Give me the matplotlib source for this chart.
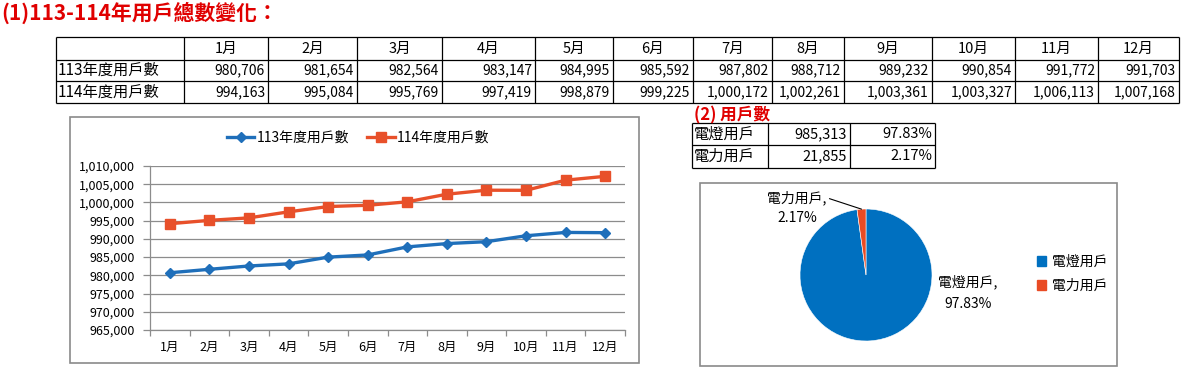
import matplotlib
matplotlib.use('Agg')
import matplotlib.pyplot as plt
from matplotlib.patches import Rectangle, Patch
import numpy as np

plt.rcParams['font.family'] = ['Noto Sans CJK TC', 'DejaVu Sans']

# ---------------- data ----------------
title1 = '(1)113-114年用戶總數變化：'
title2 = '(2) 用戶數'
months = ['1月', '2月', '3月', '4月', '5月', '6月', '7月', '8月', '9月', '10月', '11月', '12月']
series_names = ['113年度用戶數', '114年度用戶數']
users_113 = [980706, 981654, 982564, 983147, 984995, 985592, 987802, 988712,
             989232, 990854, 991772, 991703]
users_114 = [994163, 995084, 995769, 997419, 998879, 999225, 1000172, 1002261,
             1003361, 1003327, 1006113, 1007168]
y_ticks = [965000, 970000, 975000, 980000, 985000, 990000, 995000, 1000000, 1005000, 1010000]
pie_labels = ['電燈用戶', '電力用戶']
pie_counts = [985313, 21855]

# ---------------- style ----------------
W, H = 1190, 376
RED = '#E00000'
BLUE_LINE = '#1F6FBA'
ORANGE_LINE = '#E8502A'
PIE_COLORS = ['#0070C0', '#E94B24']
GRID = '#8C8C8C'

fig = plt.figure(figsize=(W / 100, H / 100), dpi=100)
bg = fig.add_axes([0, 0, 1, 1])
bg.set_xlim(0, W)
bg.set_ylim(H, 0)
bg.axis('off')


def fax(l, t, r, b):
    return fig.add_axes([l / W, 1 - b / H, (r - l) / W, (b - t) / H])


def grid_table(ax, xs, ys, lw=0.9):
    for xx in xs:
        ax.plot([xx, xx], [ys[0], ys[-1]], color='black', lw=lw, solid_capstyle='butt')
    for yy in ys:
        ax.plot([xs[0], xs[-1]], [yy, yy], color='black', lw=lw, solid_capstyle='butt')


# ---------------- title ----------------
bg.text(1, 13, title1, color=RED, fontsize=15, fontweight='bold', ha='left', va='center')

# ---------------- main table ----------------
col_x = [56, 184, 268, 357, 442, 535, 613, 693, 772, 844, 932, 1015, 1098, 1179]
row_y = [37, 60, 81, 103]
grid_table(bg, col_x, row_y)
TF = 10.5
NF = 10
for i, m in enumerate(months):
    cx = (col_x[i + 1] + col_x[i + 2]) / 2
    bg.text(cx, (row_y[0] + row_y[1]) / 2, m, ha='center', va='center', fontsize=TF)
for r, (name, vals) in enumerate(zip(series_names, [users_113, users_114])):
    yc = (row_y[r + 1] + row_y[r + 2]) / 2
    bg.text(col_x[0] + 2, yc, name, ha='left', va='center', fontsize=TF + 0.5)
    for i, v in enumerate(vals):
        bg.text(col_x[i + 2] - 3, yc, f'{v:,}', ha='right', va='center', fontsize=NF)

# ---------------- small table ----------------
bg.text(694, 115, title2, color=RED, fontsize=12, fontweight='bold', ha='left', va='center')
s_x = [692, 768, 850, 935]
s_y = [123, 145, 168]
grid_table(bg, s_x, s_y)
total = sum(pie_counts)
pcts = [c / total * 100 for c in pie_counts]
for r, (lab, c, p) in enumerate(zip(pie_labels, pie_counts, pcts)):
    yc = (s_y[r] + s_y[r + 1]) / 2
    bg.text(s_x[0] + 2, yc, lab, ha='left', va='center', fontsize=TF + 0.5)
    bg.text(s_x[2] - 3, yc, f'{c:,}', ha='right', va='center', fontsize=TF)
    bg.text(s_x[3] - 3, yc, f'{p:.2f}%', ha='right', va='center', fontsize=TF)

# ---------------- line chart ----------------
bg.add_patch(Rectangle((70, 117), 569, 246, fill=False, ec='#8A8A8A', lw=1.2))
ax = fax(150, 166, 625, 330)
x = np.arange(len(months))
ax.plot(x, users_113, color=BLUE_LINE, lw=2.4, marker='D', ms=5.5,
        mfc=BLUE_LINE, mec=BLUE_LINE, label=series_names[0], zorder=3)
ax.plot(x, users_114, color=ORANGE_LINE, lw=2.4, marker='s', ms=6.5,
        mfc=ORANGE_LINE, mec=ORANGE_LINE, label=series_names[1], zorder=3)
ax.set_xlim(-0.5, len(months) - 0.5)
ax.set_ylim(y_ticks[0], y_ticks[-1])
ax.set_yticks(y_ticks)
ax.set_yticklabels([f'{v:,}' for v in y_ticks])
ax.set_xticks(x)
ax.set_xticklabels(months)
ax.set_xticks(np.arange(-0.5, len(months), 1.0), minor=True)
ax.grid(axis='y', color=GRID, lw=0.9)
ax.set_axisbelow(True)
for s in ['top', 'right']:
    ax.spines[s].set_visible(False)
for s in ['left', 'bottom']:
    ax.spines[s].set_color(GRID)
    ax.spines[s].set_linewidth(0.9)
ax.tick_params(axis='y', length=5, width=0.9, color=GRID, pad=6, labelsize=9)
ax.tick_params(axis='x', which='major', length=0, pad=8, labelsize=9)
ax.tick_params(axis='x', which='minor', length=4, width=0.9, color=GRID)
ax.set_facecolor('none')
fig.legend(handles=ax.get_lines(), labels=series_names, loc='center',
           bbox_to_anchor=(358 / W, 1 - 138 / H), ncol=2, frameon=False,
           fontsize=10, handlelength=2.0, handletextpad=0.15, columnspacing=1.3)

# ---------------- pie chart ----------------
bg.add_patch(Rectangle((700, 183), 417, 183, fill=False, ec='#8A8A8A', lw=1.2))
axp = fax(800, 209, 932, 341)
wedges, _ = axp.pie(pie_counts, colors=PIE_COLORS, startangle=90, counterclock=False,
                    wedgeprops=dict(edgecolor='white', linewidth=0.4))
axp.set_xlim(-1, 1)
axp.set_ylim(-1, 1)
axp.set_aspect('equal')
axp.axis('off')

ang = np.deg2rad((wedges[1].theta1 + wedges[1].theta2) / 2)
axp.annotate(f'{pie_labels[1]},\n{pcts[1]:.2f}%', xy=(np.cos(ang), np.sin(ang)),
             xycoords='data', xytext=(797 / W, 1 - 208 / H), textcoords='figure fraction',
             ha='center', va='center', fontsize=10, linespacing=1.5,
             arrowprops=dict(arrowstyle='-', color='black', lw=0.8,
                             relpos=(1.0, 0.8), shrinkA=0, shrinkB=0))
bg.text(968, 293, f'{pie_labels[0]},\n{pcts[0]:.2f}%', ha='center', va='center',
        fontsize=10, linespacing=1.65)

fig.legend(handles=[Patch(color=c) for c in PIE_COLORS], labels=pie_labels,
           loc='center left', bbox_to_anchor=(1024 / W, 1 - 274 / H), frameon=False,
           fontsize=10, handlelength=0.7, handleheight=0.7, handletextpad=0.4,
           labelspacing=0.7)

fig.savefig('out.png', dpi=100)
